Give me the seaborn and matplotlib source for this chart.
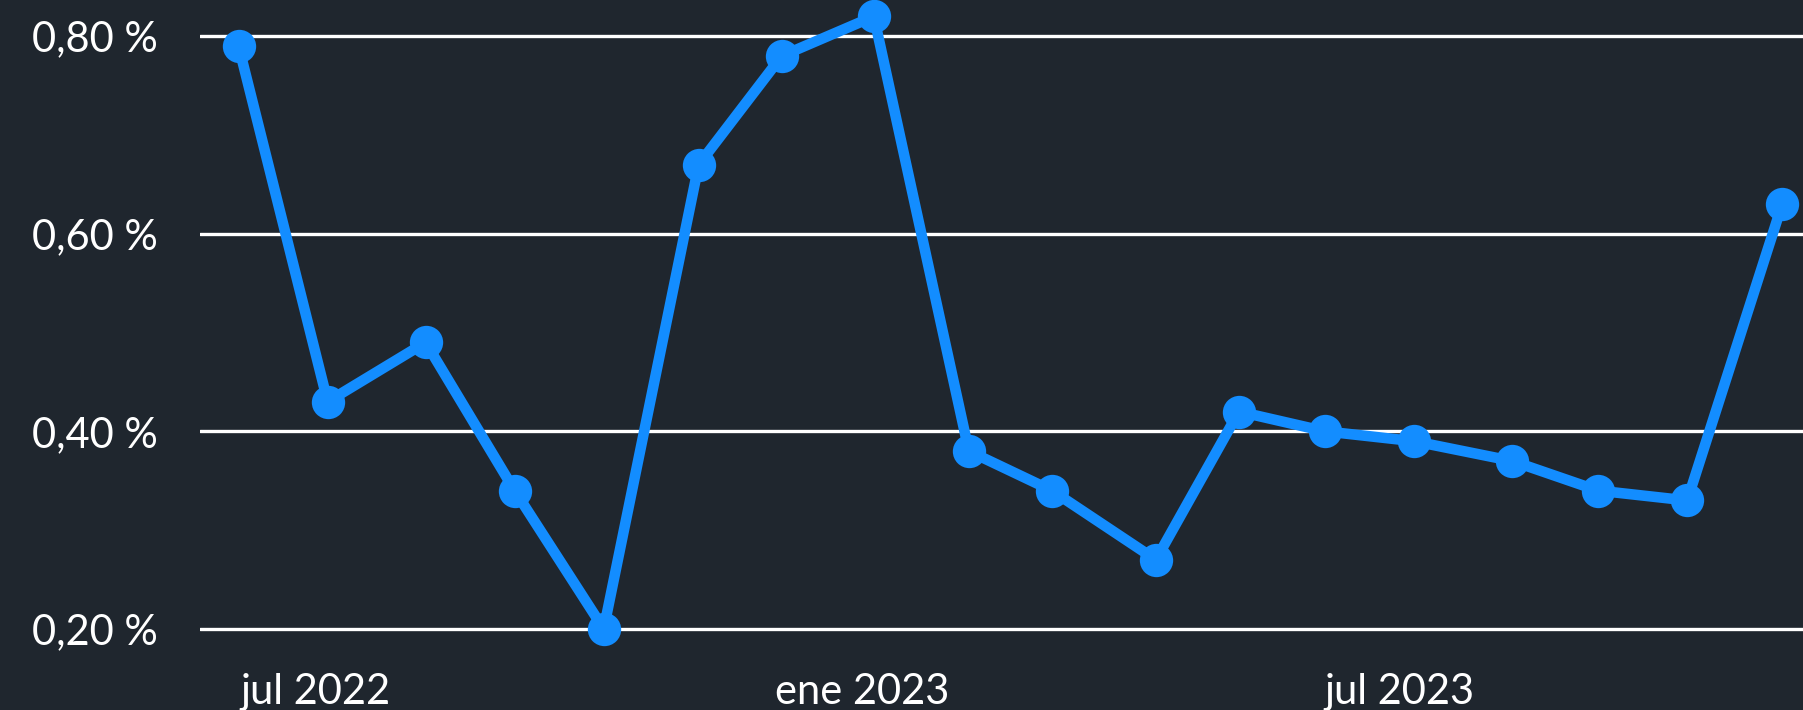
import pandas as pd
import numpy as np
import matplotlib
matplotlib.use("Agg")
import matplotlib.pyplot as plt
import seaborn as sns

# monthly readings (publication dates)
DATES = ["2022-06-05", "2022-07-05", "2022-08-07", "2022-09-06", "2022-10-06",
         "2022-11-07", "2022-12-05", "2023-01-05", "2023-02-06", "2023-03-06",
         "2023-04-10", "2023-05-08", "2023-06-06", "2023-07-06", "2023-08-08",
         "2023-09-06", "2023-10-06", "2023-11-07"]
VALUES = [0.79, 0.43, 0.49, 0.34, 0.20, 0.67, 0.78, 0.82, 0.38, 0.34,
          0.27, 0.42, 0.40, 0.39, 0.37, 0.34, 0.33, 0.63]

X_TICKS = ["2022-07-01", "2023-01-01", "2023-07-01"]
X_LABELS = ["jul 2022", "ene 2023", "jul 2023"]
Y_TICKS = [0.20, 0.40, 0.60, 0.80]
Y_LABELS = ["0,20 %", "0,40 %", "0,60 %", "0,80 %"]

BG = "#1f262e"
LINE = "#138dff"

sns.set_style("dark")
plt.rcParams["font.family"] = ["Lato", "DejaVu Sans"]

df = pd.DataFrame({"fecha": pd.to_datetime(DATES), "valor": VALUES})

fig = plt.figure(figsize=(18.03, 7.10), dpi=100, facecolor=BG)
ax = fig.add_axes([200 / 1803, 55 / 710, 1 - 200 / 1803, 655 / 710])
ax.set_facecolor(BG)

for y in Y_TICKS:
    ax.axhline(y, color="white", linewidth=2.4, zorder=1)

sns.lineplot(data=df, x="fecha", y="valor", ax=ax, color=LINE, linewidth=7.6,
             marker="o", markersize=24, markeredgewidth=0, zorder=3, clip_on=False)

ax.set_xlim(pd.Timestamp("2022-05-23"), pd.Timestamp("2023-11-14"))
ax.set_ylim(0.1736, 0.8366)

ax.set_xticks(pd.to_datetime(X_TICKS))
ax.set_xticklabels(X_LABELS)
ax.set_yticks(Y_TICKS)
ax.set_yticklabels(Y_LABELS)
ax.tick_params(axis="both", colors="white", labelsize=30, length=0)
ax.tick_params(axis="y", pad=30)
ax.tick_params(axis="x", pad=13)
ax.set_xlabel("")
ax.set_ylabel("")
ax.grid(False)
for s in ax.spines.values():
    s.set_visible(False)

fig.savefig("out.png", dpi=100, facecolor=BG)
